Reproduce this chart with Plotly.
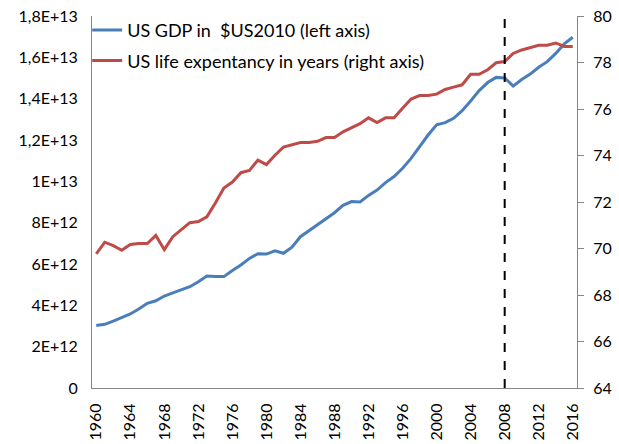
import plotly.graph_objects as go

years = list(range(1960, 2017))

gdp_trillions = [
    3.02, 3.08, 3.24, 3.40, 3.58, 3.82, 4.10, 4.22, 4.45, 4.60,
    4.74, 4.90, 5.14, 5.42, 5.40, 5.39, 5.68, 5.95, 6.27, 6.50,
    6.48, 6.64, 6.52, 6.81, 7.32, 7.61, 7.87, 8.16, 8.48, 8.84,
    9.02, 9.00, 9.32, 9.58, 9.94, 10.23, 10.63, 11.11, 11.68, 12.24,
    12.73, 12.84, 13.05, 13.42, 13.89, 14.39, 14.78, 15.03, 15.00, 14.61,
    14.93, 15.19, 15.52, 15.79, 16.19, 16.65, 16.97,
]
gdp = [v * 1e12 for v in gdp_trillions]

life_expectancy = [
    69.77, 70.27, 70.12, 69.92, 70.17, 70.21, 70.21, 70.56, 69.95, 70.51,
    70.81, 71.11, 71.16, 71.36, 71.96, 72.60, 72.86, 73.26, 73.36, 73.80,
    73.61, 74.01, 74.36, 74.46, 74.56, 74.56, 74.61, 74.77, 74.77, 75.02,
    75.21, 75.37, 75.62, 75.42, 75.62, 75.62, 76.03, 76.43, 76.58, 76.58,
    76.64, 76.84, 76.94, 77.04, 77.49, 77.49, 77.69, 77.99, 78.04, 78.39,
    78.54, 78.64, 78.74, 78.74, 78.84, 78.69, 78.69,
]

crisis_year = 2008

x_tick_years = list(range(1960, 2017, 4))
left_tick_vals = [i * 2e12 for i in range(10)]
left_tick_text = ["0", "2E+12", "4E+12", "6E+12", "8E+12", "1E+13",
                  "1,2E+13", "1,4E+13", "1,6E+13", "1,8E+13"]
right_tick_vals = list(range(64, 81, 2))

FONT = "Lato, Carlito, Calibri, sans-serif"
AXIS_GREY = "#868686"
TICK_SIZE = 16

fig = go.Figure()
fig.add_trace(go.Scatter(
    x=years, y=gdp, mode="lines", name="US GDP in  $US2010 (left axis)",
    line=dict(color="#4a7ebb", width=3), legendgroup="a", yaxis="y",
))
fig.add_trace(go.Scatter(
    x=years, y=life_expectancy, mode="lines",
    name="US life expentancy in years (right axis)",
    line=dict(color="#be4b48", width=3), legendgroup="b", yaxis="y2",
))

fig.add_shape(type="line", x0=crisis_year, x1=crisis_year, xref="x",
              y0=0, y1=1, yref="paper",
              line=dict(color="black", width=2, dash="dash"))

fig.update_layout(
    width=619, height=444,
    margin=dict(l=92, r=42, t=16, b=56, autoexpand=False),
    paper_bgcolor="white", plot_bgcolor="white",
    font=dict(family=FONT, size=18, color="black"),
    showlegend=True,
    legend=dict(x=-0.01, y=1.011, xanchor="left", yanchor="top",
                bgcolor="rgba(0,0,0,0)", font=dict(size=18),
                tracegroupgap=4, itemwidth=30),
    xaxis=dict(range=[1959.5, 2016.5], tickvals=x_tick_years,
               tickangle=-90, showgrid=False, zeroline=False,
               showline=True, linecolor=AXIS_GREY, linewidth=1,
               ticks="", automargin=False, ticklabelstandoff=8,
               tickfont=dict(size=TICK_SIZE)),
    yaxis=dict(range=[0, 1.8e13], tickvals=left_tick_vals,
               ticktext=left_tick_text, showgrid=False, zeroline=False,
               showline=True, linecolor=AXIS_GREY, linewidth=1,
               ticks="", automargin=False, ticklabelstandoff=10,
               tickfont=dict(size=TICK_SIZE)),
    yaxis2=dict(range=[64, 80], tickvals=right_tick_vals, overlaying="y",
                side="right", showgrid=False, zeroline=False,
                showline=True, linecolor=AXIS_GREY, linewidth=1,
                ticks="outside", ticklen=6, tickcolor=AXIS_GREY,
                automargin=False, ticklabelstandoff=6,
                tickfont=dict(size=TICK_SIZE)),
)

# remove the default 8px page margin so the figure fills the window exactly
fig.write_html("out.html",
               config={"displayModeBar": False},
               post_script="document.body.style.margin='0';")
